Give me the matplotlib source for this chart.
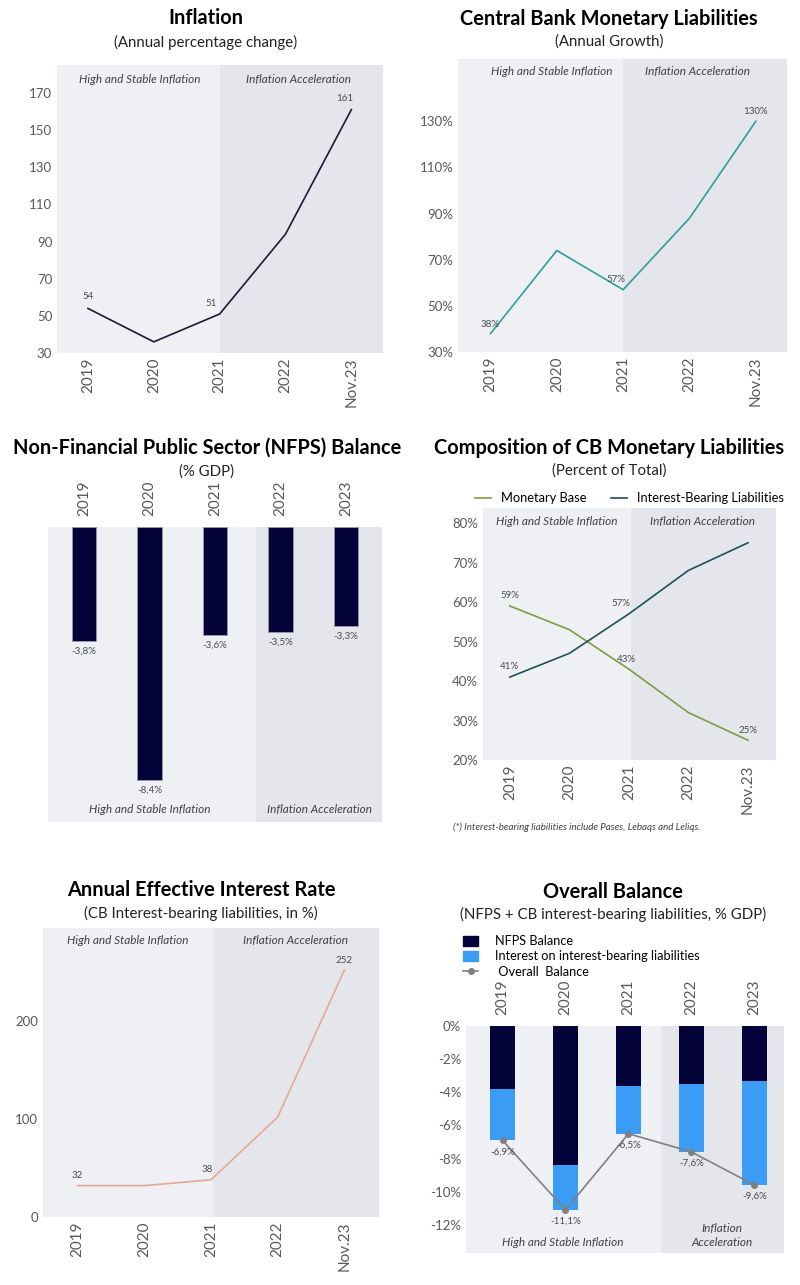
import matplotlib
matplotlib.use('Agg')
import matplotlib.pyplot as plt
import matplotlib.transforms as mtransforms
from matplotlib.patches import Patch
from matplotlib.lines import Line2D
import numpy as np

plt.rcParams['font.family'] = ['Lato', 'DejaVu Sans']

# data
years_a = ['2019', '2020', '2021', '2022', 'Nov.23']
years_b = ['2019', '2020', '2021', '2022', '2023']
inflation = [54, 36, 51, 94, 161]
cb_growth = [38, 74, 57, 88, 130]
nfps_balance = [-3.8, -8.4, -3.6, -3.5, -3.3]
monetary_base = [59, 53, 43, 32, 25]
interest_bearing = [41, 47, 57, 68, 75]
effective_rate = [32, 32, 38, 102, 252]
interest_cost = [-3.1, -2.7, -2.9, -4.1, -6.3]
overall_balance = [-6.9, -11.1, -6.5, -7.6, -9.6]

W, H = 800, 1285
LIGHT = '#eff0f4'
DARK = '#e4e6eb'
NAVY = '#03033a'
GRAY_TXT = '#595959'
LBL = '#4a4a4a'

fig = plt.figure(figsize=(W / 100, H / 100), dpi=100)


def px_axes(x0, y0, x1, y1):
    return fig.add_axes([x0 / W, 1 - y1 / H, (x1 - x0) / W, (y1 - y0) / H])


def ftext(x, y, s, **kw):
    fig.text(x / W, 1 - y / H, s, ha='center', va='center', **kw)


def titles(x, y_t, y_s, title, sub):
    ftext(x, y_t, title, fontsize=14.4, fontweight='bold', color='black')
    ftext(x, y_s, sub, fontsize=10.8, color='#222222')


def base_style(ax, xlim, split):
    ax.set_facecolor(LIGHT)
    ax.axvspan(split, xlim[1], color=DARK, lw=0, zorder=0)
    ax.set_xlim(*xlim)
    for s in ax.spines.values():
        s.set_visible(False)
    ax.tick_params(length=0, colors=GRAY_TXT)


def regime_top(ax, x1, x2, yfrac):
    tr = mtransforms.blended_transform_factory(ax.transData, ax.transAxes)
    ax.text(x1, yfrac, 'High and Stable Inflation', transform=tr, ha='center', va='center',
            fontsize=8.5, style='italic', color='#404040')
    ax.text(x2, yfrac, 'Inflation Acceleration', transform=tr, ha='center', va='center',
            fontsize=8.5, style='italic', color='#404040')


def line_panel(ax, values, color, xlim, ylim, yticks, fmt, labels, split, reg):
    base_style(ax, xlim, split)
    x = np.arange(len(values))
    ax.plot(x, values, color=color, lw=1.2, zorder=3)
    ax.set_ylim(*ylim)
    ax.set_yticks(yticks)
    ax.set_yticklabels([fmt.format(t) for t in yticks], fontsize=9.5)
    ax.set_xticks(x)
    ax.set_xticklabels(years_a, rotation=90, fontsize=11)
    for i, dx, dy in labels:
        ax.annotate(fmt.format(values[i]), (i, values[i]), xytext=(dx, dy),
                    textcoords='offset points', ha='center', va='bottom',
                    fontsize=7, color=LBL, zorder=4)
    regime_top(ax, reg[0], reg[1], reg[2])


# 1. Inflation
titles(206, 18, 42, 'Inflation', '(Annual percentage change)')
ax1 = px_axes(57, 65, 383, 353)
line_panel(ax1, inflation, '#1a1a36', (-0.47, 4.48), (30, 185), range(30, 171, 20), '{}',
           [(0, 0, 5), (2, -6, 4), (4, -5, 5)], 2, (0.79, 3.2, 0.951))

# 2. Central bank monetary liabilities
titles(609, 19, 42, 'Central Bank Monetary Liabilities', '(Annual Growth)')
ax2 = px_axes(458, 59, 787, 352)
line_panel(ax2, cb_growth, '#2e9e9b', (-0.49, 4.47), (30, 157), range(30, 131, 20), '{}%',
           [(0, 0, 3), (2, -5, 4), (4, 0, 4)], 2, (0.92, 3.12, 0.956))

# 3. NFPS balance
titles(207, 448, 472, 'Non-Financial Public Sector (NFPS) Balance', '(% GDP)')
ax3 = px_axes(48, 527, 382, 822)
base_style(ax3, (-0.55, 4.55), 2.63)
xb = np.arange(len(nfps_balance))
ax3.bar(xb, nfps_balance, width=0.38, color=NAVY, edgecolor='#9a9aa8', lw=0.6, zorder=3)
ax3.set_ylim(-9.8, 0)
ax3.set_yticks([])
ax3.xaxis.tick_top()
ax3.set_xticks(xb)
ax3.set_xticklabels(years_b, rotation=90, fontsize=11)
ax3.tick_params(axis='x', pad=8)
for i, v in enumerate(nfps_balance):
    ax3.annotate(f'{v:.1f}%'.replace('.', ','), (i, v), xytext=(0, -4), textcoords='offset points',
                 ha='center', va='top', fontsize=7, color=LBL)
ax3.text(1.0, -9.38, 'High and Stable Inflation', ha='center', va='center', fontsize=8.5,
         style='italic', color='#404040')
ax3.text(3.59, -9.38, 'Inflation Acceleration', ha='center', va='center', fontsize=8.5,
         style='italic', color='#404040')

# 4. Composition of CB monetary liabilities
titles(609, 448, 471, 'Composition of CB Monetary Liabilities', '(Percent of Total)')
ax4 = px_axes(483, 508, 776, 760)
base_style(ax4, (-0.45, 4.47), 2.03)
xc = np.arange(len(monetary_base))
ax4.plot(xc, monetary_base, color='#7a9e45', lw=1.2, zorder=3, label='Monetary Base')
ax4.plot(xc, interest_bearing, color='#1f4f5c', lw=1.2, zorder=3, label='Interest-Bearing Liabilities')
ax4.set_ylim(20, 83.8)
ax4.set_yticks(range(20, 81, 10))
ax4.set_yticklabels([f'{t}%' for t in range(20, 81, 10)], fontsize=9.5)
ax4.set_xticks(xc)
ax4.set_xticklabels(years_a, rotation=90, fontsize=11)
for series, idx in ((monetary_base, [(0, 0, 4), (2, -2, 4), (4, 0, 4)]),
                    (interest_bearing, [(0, 0, 4), (2, -6, 4)])):
    for i, dx, dy in idx:
        ax4.annotate(f'{series[i]}%', (i, series[i]), xytext=(dx, dy), textcoords='offset points',
                     ha='center', va='bottom', fontsize=7, color=LBL, zorder=4)
regime_top(ax4, 0.79, 3.23, 0.946)
ax4.legend(loc='lower center', bbox_to_anchor=(0.5, 0.99), ncol=2, frameon=False,
           fontsize=9.3, handlelength=1.2, columnspacing=1.9, borderaxespad=0.1)
fig.text(453 / W, 1 - 827 / H, '(*) Interest-bearing liabilities include Pases, Lebaqs and Leliqs.',
         ha='left', va='center', fontsize=7, style='italic', color='#404040')

# 5. Annual effective interest rate
titles(201, 890, 913, 'Annual Effective Interest Rate', '(CB Interest-bearing liabilities, in %)')
ax5 = px_axes(43, 928, 379, 1217)
line_panel(ax5, effective_rate, '#e6a797', (-0.52, 4.52), (0, 295), [0, 100, 200], '{}',
           [(0, 0, 4), (2, -3, 4), (4, 0, 4)], 2.03, (0.75, 3.27, 0.956))

# 6. Overall balance
titles(613, 892, 914, 'Overall Balance', '(NFPS + CB interest-bearing liabilities, % GDP)')
ax6 = px_axes(466, 1026, 784, 1253)
base_style(ax6, (-0.58, 4.47), 2.51)
xo = np.arange(len(nfps_balance))
ax6.bar(xo, nfps_balance, width=0.4, color=NAVY, zorder=3)
ax6.bar(xo, interest_cost, width=0.4, bottom=nfps_balance, color='#3a9cf4', zorder=3)
ax6.plot(xo, overall_balance, color='#808080', lw=1.2, marker='o', ms=4, zorder=4)
ax6.set_ylim(-13.7, 0)
ax6.set_yticks(range(0, -13, -2))
ax6.set_yticklabels([f'{t}%' for t in range(0, -13, -2)], fontsize=9.5)
ax6.xaxis.tick_top()
ax6.set_xticks(xo)
ax6.set_xticklabels(years_b, rotation=90, fontsize=11)
ax6.tick_params(axis='x', pad=8)
for i, v in enumerate(overall_balance):
    ax6.annotate(f'{v:.1f}%'.replace('.', ','), (i, v), xytext=(0, -5), textcoords='offset points',
                 ha='center', va='top', fontsize=7, color=LBL, zorder=5)
ax6.text(0.95, -13.05, 'High and Stable Inflation', ha='center', va='center', fontsize=8.5,
         style='italic', color='#404040')
ax6.text(3.49, -12.65, 'Inflation\nAcceleration', ha='center', va='center', fontsize=8.5,
         style='italic', color='#404040', linespacing=1.3)
handles = [Patch(color=NAVY), Patch(color='#3a9cf4'),
           Line2D([], [], color='#808080', marker='o', ms=4, lw=1.2)]
fig.legend(handles, ['NFPS Balance', 'Interest on interest-bearing liabilities', ' Overall  Balance'],
           loc='upper left', bbox_to_anchor=(458 / W, 1 - 930 / H), frameon=False, fontsize=9.2,
           handlelength=1.2, handleheight=0.8, labelspacing=0.25, handletextpad=1.3, borderaxespad=0)

fig.savefig('out.png', dpi=100, facecolor='white')
